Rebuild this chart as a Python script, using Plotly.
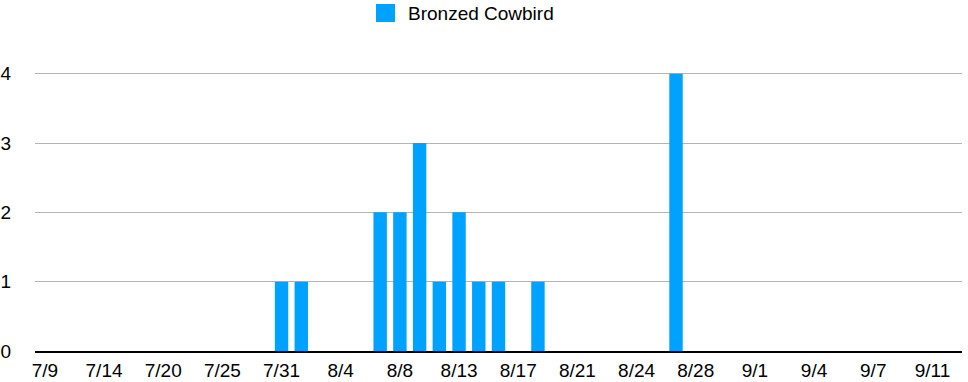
import plotly.graph_objects as go

dates = ["7/9", "7/11", "7/12", "7/14", "7/16", "7/18", "7/20", "7/22", "7/23", "7/25",
         "7/27", "7/29", "7/31", "8/2", "8/3", "8/4", "8/5", "8/7", "8/8", "8/10",
         "8/11", "8/13", "8/14", "8/15", "8/17", "8/18", "8/20", "8/21", "8/22", "8/23",
         "8/24", "8/25", "8/27", "8/28", "8/30", "8/31", "9/1", "9/2", "9/3", "9/4",
         "9/5", "9/6", "9/7", "9/8", "9/10", "9/11", "9/13"]
counts = [0, 0, 0, 0, 0, 0, 0, 0, 0, 0,
          0, 0, 1, 1, 0, 0, 0, 2, 2, 3,
          1, 2, 1, 1, 0, 1, 0, 0, 0, 0,
          0, 0, 4, 0, 0, 0, 0, 0, 0, 0,
          0, 0, 0, 0, 0, 0, 0]
tick_labels = dates[::3]
series_name = "Bronzed Cowbird"
color = "#00A2FF"

W, H = 968, 382
ml, mr, mt, mb = 35, 6, 46, 31
pw, ph = W - ml - mr, H - mt - mb

def px_x(x):
    return (x - ml) / pw

def px_y(y):
    return (H - mb - y) / ph

fig = go.Figure()
fig.add_trace(go.Bar(x=dates, y=counts, name=series_name, marker_color=color,
                     marker_line_width=0, showlegend=False))

fig.update_layout(
    width=W, height=H,
    margin=dict(l=ml, r=mr, t=mt, b=mb, autoexpand=False),
    paper_bgcolor="white", plot_bgcolor="white",
    bargap=0.32,
    font=dict(family="Liberation Sans, Arial, sans-serif", size=19, color="black"),
    xaxis=dict(type="category", tickmode="array", tickvals=tick_labels, ticktext=tick_labels,
               showgrid=False, showline=True, linecolor="black", linewidth=2,
               ticks="", tickfont=dict(size=19), ticklabelstandoff=1, automargin=False,
               range=[-0.5, len(dates) - 0.5]),
    yaxis=dict(range=[0, 4.4], tickvals=[0, 1, 2, 3, 4], showgrid=True,
               gridcolor="#b5b5b5", gridwidth=1, zeroline=False, showline=False,
               ticks="", tickfont=dict(size=19), ticklabelstandoff=23, automargin=False),
    shapes=[dict(type="rect", xref="paper", yref="paper",
                 x0=px_x(376), x1=px_x(395), y0=px_y(22), y1=px_y(4),
                 fillcolor=color, line_width=0)],
    annotations=[dict(text=series_name, xref="paper", yref="paper",
                      x=px_x(406), y=px_y(13), xanchor="left", yanchor="middle",
                      showarrow=False, font=dict(size=19, color="black"))],
)

fig.write_html("out.html")
